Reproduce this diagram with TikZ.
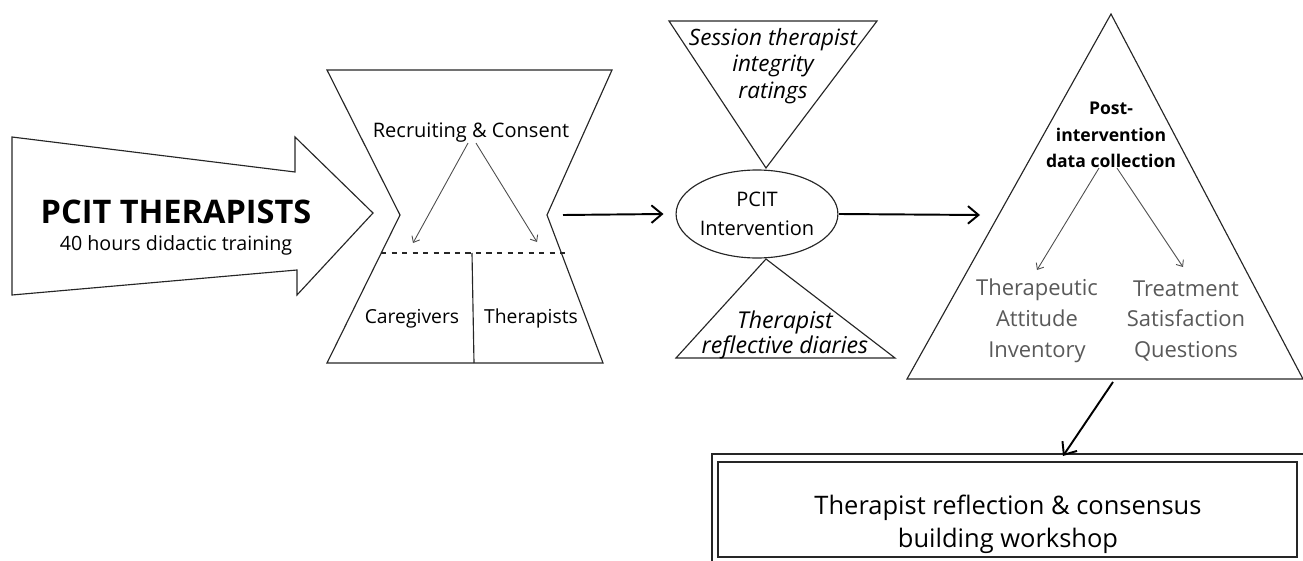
\documentclass[tikz,border=0pt]{standalone}
\usepackage{fontspec}
\setmainfont{Open Sans}
\usetikzlibrary{shapes.geometric,arrows.meta}

\tikzset{
  outline/.style={draw=black!85, line width=0.65pt, line join=miter},
  flow/.style={-{Straight Barb[length=6pt,width=10pt]}, line width=1.1pt},
  subflow/.style={-{Straight Barb[length=3pt,width=5pt]}, draw=black!70, line width=0.5pt},
  lbl/.style={align=center, inner sep=0pt},
  grey/.style={text=black!65}
}

\begin{document}
\begin{tikzpicture}[x=0.02cm, y=-0.02cm]
    \useasboundingbox (0,0) rectangle (1303,561);

    % Define shapes
    \draw[outline] (12,137) -- (295,172) -- (295,137) -- (373,213) -- (297,295)
        -- (297,270) -- (12,295) -- cycle;
    \draw[outline] (327,70) -- (612,70) -- (547,215) -- (603,363) -- (327,363)
        -- (400,215) -- cycle;
    \draw[outline, dashed] (381,253) -- (565,253);
    \draw[outline] (472,253) -- (474,363);
    \draw[outline] (669,21) -- (877,21) -- (766,168) -- cycle;
    \draw[outline] (766,259) -- (895,358) -- (676,358) -- cycle;
    \draw[outline] (1111,14) -- (1303,379) -- (907,379) -- cycle;
    \draw[outline] (1303,454) -- (712,454) -- (712,561);
    \draw[outline] (718,462) rectangle (1297,557);

    % Define nodes
    \node[lbl, font=\fontsize{18.5}{20}\selectfont\bfseries] (pcit) at (176,212) {PCIT THERAPISTS};
    \node[lbl, font=\fontsize{11.2}{13}\selectfont] (train) at (176,245) {40 hours didactic training};

    \node[lbl, font=\fontsize{11.4}{13}\selectfont] (recruit) at (471,133) {Recruiting \& Consent};
    \node[lbl, font=\fontsize{11}{13}\selectfont] (care) at (412,319) {Caregivers};
    \node[lbl, font=\fontsize{11}{13}\selectfont] (ther) at (531,318) {Therapists};

    \node[draw=black!85, line width=0.65pt, ellipse, minimum width=160*0.02cm,
        minimum height=88*0.02cm, inner sep=0pt, align=center,
        font=\fontsize{11.4}{16.5}\selectfont] (intv) at (757,214) {PCIT\\Intervention};

    \node[lbl, font=\fontsize{12.8}{15}\selectfont\itshape] (integ) at (773,66)
        {Session therapist\\integrity\\ratings};
    \node[lbl, font=\fontsize{13.2}{14.3}\selectfont\itshape] (diary) at (785,335)
        {Therapist\\reflective diaries};

    \node[lbl, font=\fontsize{10}{15}\selectfont\bfseries] (post) at (1111,135)
        {Post-\\intervention\\data collection};
    \node[lbl, grey, font=\fontsize{12.5}{17.5}\selectfont] (tai) at (1037,321)
        {Therapeutic\\Attitude\\Inventory};
    \node[lbl, grey, font=\fontsize{12.5}{17.5}\selectfont] (tsq) at (1186,321)
        {Treatment\\Satisfaction\\Questions};

    \node[lbl, font=\fontsize{14.5}{18.7}\selectfont] (work) at (1008,524)
        {Therapist reflection \& consensus\\building workshop};

    \coordinate (hgout) at (563,215);
    \coordinate (triin) at (980,215);
    \coordinate (careend) at (413,243);
    \coordinate (therend) at (537,242);
    \coordinate (taiend) at (1037,270);
    \coordinate (tsqend) at (1183,267);
    \coordinate (tribase) at (1113,382);
    \coordinate (workin) at (1063,456);

    % Draw arrows
    \draw[flow] (hgout) -- ([xshift=-12*0.02cm]intv.west);
    \draw[flow] ([xshift=0.4pt]intv.east) -- (triin);
    \draw[flow] (tribase) -- (workin);
    \draw[subflow] ([xshift=-3*0.02cm]recruit.south) -- (careend);
    \draw[subflow] ([xshift=5*0.02cm]recruit.south) -- (therend);
    \draw[subflow] ([xshift=-12*0.02cm]post.south) -- (taiend);
    \draw[subflow] ([xshift=6*0.02cm]post.south) -- (tsqend);
\end{tikzpicture}
\end{document}
